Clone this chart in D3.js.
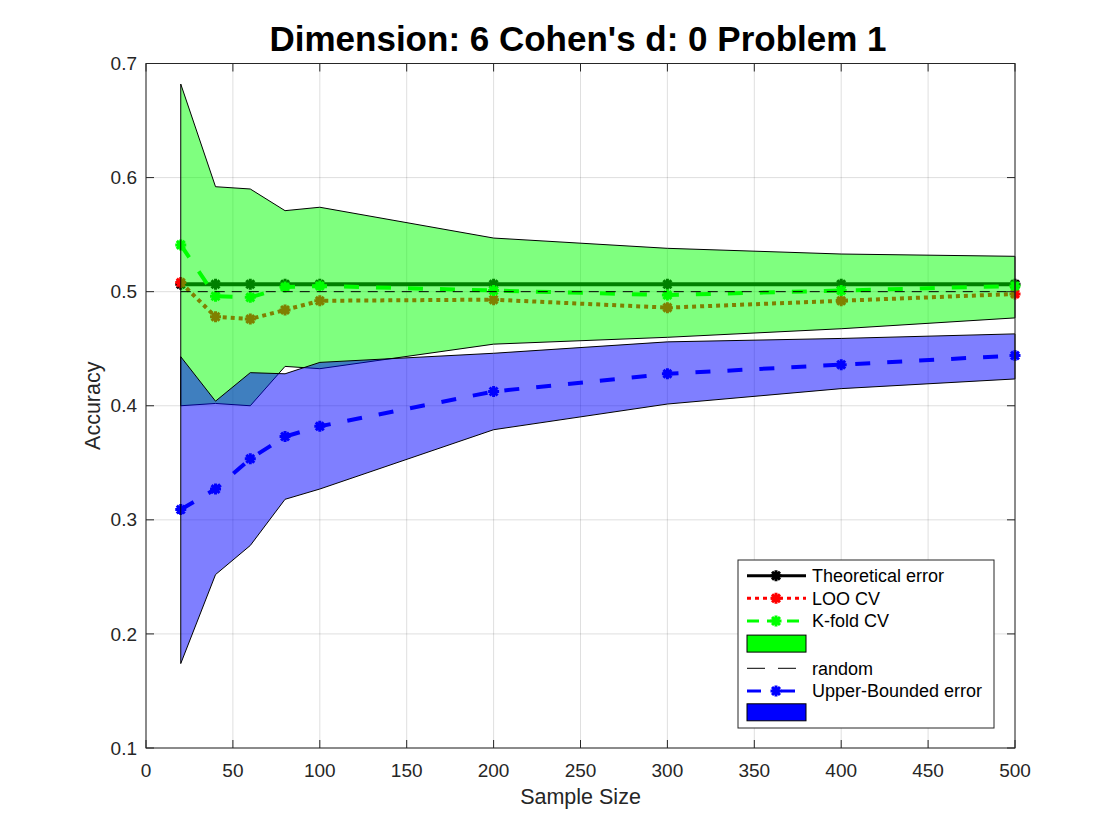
<!DOCTYPE html>
<html>
<head>
<meta charset="utf-8">
<script src="https://cdn.jsdelivr.net/npm/d3@7"></script>
<style>
  body { margin: 0; background: #fff; }
  svg { display: block; font-family: "Liberation Sans", Arial, Helvetica, sans-serif; }
</style>
</head>
<body>
<svg id="chart" width="1120" height="840"></svg>
<script>
// Data
const sampleSizes = [20, 40, 60, 80, 100, 200, 300, 400, 500];
const theoretical = [0.5065, 0.5065, 0.5065, 0.5065, 0.5065, 0.5065, 0.5065, 0.5065, 0.5065];
const looCV = [0.508, 0.478, 0.476, 0.484, 0.492, 0.493, 0.486, 0.492, 0.498];
const kfoldCV = [0.541, 0.496, 0.495, 0.504, 0.505, 0.501, 0.497, 0.501, 0.505];
const kfoldHigh = [0.682, 0.592, 0.590, 0.571, 0.574, 0.547, 0.538, 0.533, 0.531];
const kfoldLow = [0.400, 0.402, 0.400, 0.4345, 0.4325, 0.454, 0.460, 0.4675, 0.477];
const randomLevel = [0.5, 0.5];
const randomX = [20, 500];
const upperBounded = [0.309, 0.327, 0.3535, 0.373, 0.382, 0.4125, 0.428, 0.436, 0.444];
const upperHigh = [0.443, 0.404, 0.429, 0.428, 0.438, 0.446, 0.456, 0.459, 0.463];
const upperLow = [0.174, 0.252, 0.2775, 0.318, 0.327, 0.379, 0.4015, 0.415, 0.4235];
const xTicks = [0, 50, 100, 150, 200, 250, 300, 350, 400, 450, 500];
const yTicks = [0.1, 0.2, 0.3, 0.4, 0.5, 0.6, 0.7];
const legendLabels = ["Theoretical error", "LOO CV", "K-fold CV", "", "random", "Upper-Bounded error", ""];

const svg = d3.select("#chart");
const plotL = 146, plotR = 1015, plotT = 63.5, plotB = 748;
const axisColor = "#262626";

const x = d3.scaleLinear().domain([0, 500]).range([plotL, plotR]);
const y = d3.scaleLinear().domain([0.1, 0.7]).range([plotB, plotT]);

// grid
const grid = svg.append("g");
grid.selectAll("line.gx").data(xTicks).join("line")
  .attr("x1", d => x(d)).attr("x2", d => x(d))
  .attr("y1", plotT).attr("y2", plotB)
  .attr("stroke", axisColor).attr("stroke-opacity", 0.15);
grid.selectAll("line.gy").data(yTicks).join("line")
  .attr("x1", plotL).attr("x2", plotR)
  .attr("y1", d => y(d)).attr("y2", d => y(d))
  .attr("stroke", axisColor).attr("stroke-opacity", 0.15);

const starPath = r => {
  const k = r * 0.72;
  return `M0,${-r}L0,${r}M${-r},0L${r},0M${-k},${-k}L${k},${k}M${-k},${k}L${k},${-k}`;
};

function series(values, color, dash, xs = sampleSizes, markers = true) {
  const pts = xs.map((s, i) => [s, values[i]]);
  const line = d3.line().x(d => x(d[0])).y(d => y(d[1]));
  const g = svg.append("g");
  g.append("path").attr("d", line(pts))
    .attr("fill", "none").attr("stroke", color)
    .attr("stroke-width", markers ? 4 : 1)
    .attr("stroke-dasharray", dash);
  if (markers) {
    g.selectAll("path.m").data(pts).join("path")
      .attr("transform", d => `translate(${x(d[0])},${y(d[1])})`)
      .attr("d", starPath(5.5))
      .attr("fill", "none").attr("stroke", color).attr("stroke-width", 3);
  }
}

function band(high, low, color) {
  const area = d3.area().x(d => x(d[0])).y0(d => y(d[2])).y1(d => y(d[1]));
  const pts = sampleSizes.map((s, i) => [s, high[i], low[i]]);
  svg.append("path").attr("d", area(pts))
    .attr("fill", color).attr("fill-opacity", 0.5)
    .attr("stroke", "#000").attr("stroke-width", 1);
}

// plot order matters: bands are drawn over the lines before them
series(theoretical, "#000", null);
series(looCV, "#ff0000", "4,4");
series(kfoldCV, "#00ff00", "15,17");
band(kfoldHigh, kfoldLow, "#00ff00");
series(randomLevel, "#000", "10,7", randomX, false);
series(upperBounded, "#0000ff", "15,17");
band(upperHigh, upperLow, "#0000ff");

// axes box and ticks
svg.append("rect").attr("x", plotL).attr("y", plotT)
  .attr("width", plotR - plotL).attr("height", plotB - plotT)
  .attr("fill", "none").attr("stroke", axisColor).attr("stroke-width", 1);

const tickLen = 8;
const axes = svg.append("g").attr("fill", axisColor).attr("font-size", 19);
xTicks.forEach(t => {
  axes.append("line").attr("x1", x(t)).attr("x2", x(t)).attr("y1", plotB).attr("y2", plotB - tickLen)
    .attr("stroke", axisColor);
  axes.append("line").attr("x1", x(t)).attr("x2", x(t)).attr("y1", plotT).attr("y2", plotT + tickLen)
    .attr("stroke", axisColor);
  axes.append("text").attr("x", x(t)).attr("y", 777).attr("text-anchor", "middle").text(t);
});
yTicks.forEach(t => {
  axes.append("line").attr("x1", plotL).attr("x2", plotL + tickLen).attr("y1", y(t)).attr("y2", y(t))
    .attr("stroke", axisColor);
  axes.append("line").attr("x1", plotR).attr("x2", plotR - tickLen).attr("y1", y(t)).attr("y2", y(t))
    .attr("stroke", axisColor);
  axes.append("text").attr("x", 137).attr("y", y(t)).attr("dy", "0.35em")
    .attr("text-anchor", "end").text(d3.format(".1f")(t));
});

svg.append("text").attr("x", (plotL + plotR) / 2).attr("y", 804)
  .attr("text-anchor", "middle").attr("font-size", 21.5).attr("fill", axisColor).text("Sample Size");
svg.append("text").attr("transform", `translate(100,${(plotT + plotB) / 2}) rotate(-90)`)
  .attr("text-anchor", "middle").attr("font-size", 21.5).attr("fill", axisColor).text("Accuracy");
svg.append("text").attr("x", 578).attr("y", 51)
  .attr("text-anchor", "middle").attr("font-size", 35).attr("font-weight", "bold")
  .attr("fill", "#000").text("Dimension: 6 Cohen's d: 0 Problem 1");

// legend
const lg = svg.append("g");
lg.append("rect").attr("x", 738).attr("y", 560).attr("width", 256).attr("height", 168)
  .attr("fill", "#fff").attr("stroke", axisColor);
const rowY = [575.7, 598.3, 621, 643.6, 668.3, 691, 712.3];
const sx0 = 747, sx1 = 806, smid = 776;
const legendStyle = [
  { type: "line", color: "#000", dash: null, w: 3, marker: true },
  { type: "line", color: "#ff0000", dash: "4,4", w: 3, marker: true },
  { type: "line", color: "#00ff00", dash: "12,8", w: 3, marker: true },
  { type: "rect", color: "#00ff00" },
  { type: "line", color: "#000", dash: "18,13", w: 1, marker: false },
  { type: "line", color: "#0000ff", dash: "14,20", w: 3, marker: true },
  { type: "rect", color: "#0000ff" }
];
legendLabels.forEach((label, i) => {
  const st = legendStyle[i], yy = rowY[i];
  if (st.type === "rect") {
    lg.append("rect").attr("x", sx0).attr("y", yy - 8.5).attr("width", sx1 - sx0).attr("height", 17)
      .attr("fill", st.color).attr("stroke", "#000");
  } else {
    lg.append("line").attr("x1", sx0).attr("x2", sx1).attr("y1", yy).attr("y2", yy)
      .attr("stroke", st.color).attr("stroke-width", st.w).attr("stroke-dasharray", st.dash);
    if (st.marker) {
      lg.append("path").attr("transform", `translate(${smid},${yy})`).attr("d", starPath(5.5))
        .attr("fill", "none").attr("stroke", st.color).attr("stroke-width", 3);
    }
  }
  lg.append("text").attr("x", 812).attr("y", yy).attr("dy", "0.35em")
    .attr("font-size", 18).attr("fill", "#000").text(label);
});
</script>
</body>
</html>
